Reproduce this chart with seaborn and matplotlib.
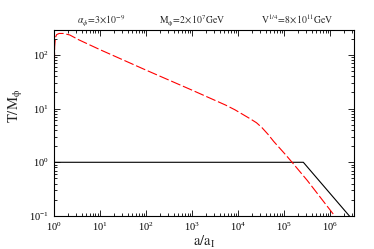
import numpy as np
import pandas as pd
import matplotlib
matplotlib.use('Agg')
import matplotlib.pyplot as plt
import seaborn as sns
from matplotlib.ticker import LogLocator, NullFormatter

# red dashed curve: T/M_phi
a_red = [1.0, 1.01, 1.02, 1.04, 1.08, 1.15, 1.3, 1.6, 2.2, 3.5, 10.0, 100.0, 1000.0,
         5250.0, 8500.0, 1.8e4, 2.5e4, 3.3e4, 4.47e4, 5.9e4, 1.05e5, 1.48e5, 3.16e5,
         1.25e6, 1.4e6]
t_red = [0.1, 5.0, 40.0, 140.0, 210.0, 238.0, 250.0, 250.0, 235.0, 190.0, 125.0, 52.0, 22.0,
         11.7, 9.5, 6.5, 5.45, 4.4, 3.3, 2.45, 1.41, 1.0, 0.46,
         0.1, 0.088]

# black solid curve
a_blk = [1.0, 2.6e5, 2.6e6, 4.5e6]
t_blk = [1.0, 1.0, 0.1, 0.057]

sns.set_style("ticks")
plt.rcParams['font.family'] = ['Liberation Serif', 'DejaVu Serif']
plt.rcParams['mathtext.fontset'] = 'stix'
plt.rcParams['xtick.direction'] = 'in'
plt.rcParams['ytick.direction'] = 'in'

df_red = pd.DataFrame({'a': a_red, 'T': t_red})
df_blk = pd.DataFrame({'a': a_blk, 'T': t_blk})

fig = plt.figure(figsize=(3.74, 2.49), dpi=100)
ax = fig.add_axes([0.144, 0.1325, 0.803, 0.747])

sns.lineplot(data=df_blk, x='a', y='T', ax=ax, color='black', lw=0.8, sort=False)
sns.lineplot(data=df_red, x='a', y='T', ax=ax, color='red', lw=0.8, sort=False,
             linestyle=(0, (9, 2.5)))

ax.set_xscale('log')
ax.set_yscale('log')
ax.set_xlim(1, 3.3e6)
ax.set_ylim(0.1, 290)

ax.xaxis.set_major_locator(LogLocator(base=10, numticks=10))
ax.xaxis.set_minor_locator(LogLocator(base=10, subs=np.arange(2, 10), numticks=100))
ax.xaxis.set_minor_formatter(NullFormatter())
ax.yaxis.set_minor_formatter(NullFormatter())
ax.tick_params(which='both', top=True, right=True, labelsize=7.5, width=0.6, colors='black')
ax.tick_params(which='major', length=4)
ax.tick_params(which='minor', length=2)
for s in ax.spines.values():
    s.set_linewidth(0.8)
    s.set_color('black')

ax.set_xlabel(r'$\mathrm{a/a_I}$', fontsize=10.5)
ax.xaxis.set_label_coords(0.5, -0.095)
ax.set_ylabel(r'$\mathrm{T/M_\phi}$', fontsize=10.5)
ax.yaxis.set_label_coords(-0.095, 0.59)

fig.text(0.27, 0.905, r'$\alpha_\phi\!=\!3\!\times\!10^{-9}$', fontsize=7, ha='center')
fig.text(0.515, 0.905, r'$\mathrm{M_\phi\!=\!2\!\times\!10^7GeV}$', fontsize=7, ha='center')
fig.text(0.795, 0.905, r'$\mathrm{V^{1/4}\!=\!8\!\times\!10^{11}GeV}$', fontsize=7, ha='center')

fig.savefig('out.png', dpi=100)
